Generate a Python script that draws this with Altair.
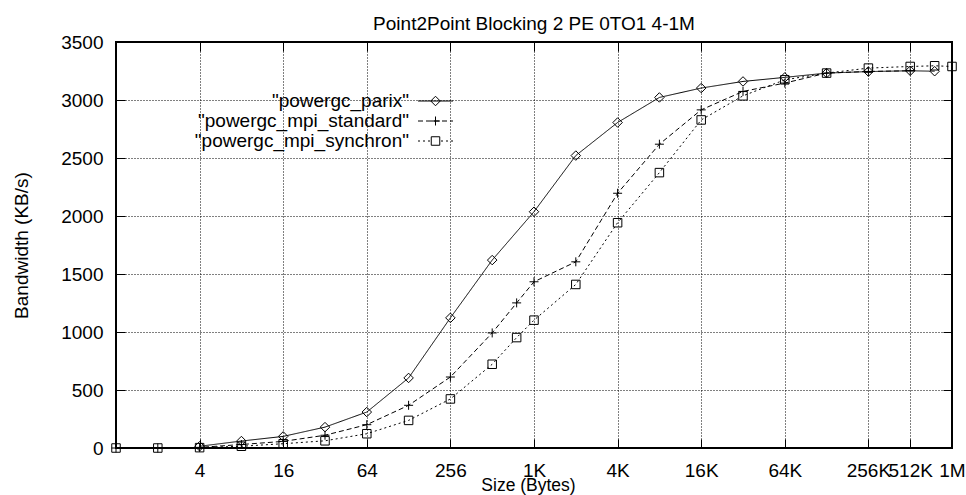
import altair as alt
import pandas as pd

TITLE = "Point2Point Blocking 2 PE 0TO1 4-1M"
SERIES = ['"powergc_parix"', '"powergc_mpi_standard"', '"powergc_mpi_synchron"']

parix_size = [4, 8, 16, 32, 64, 128, 256, 512, 1024, 2048, 4096, 8192, 16384,
              32768, 65536, 131072, 262144, 524288, 786432]
parix_bw = [15, 60, 100, 180, 310, 604, 1122, 1620, 2037, 2521, 2806, 3022, 3103,
            3160, 3195, 3232, 3245, 3252, 3248]

std_size = [1, 2, 4, 8, 16, 32, 64, 128, 256, 512, 768, 1024, 2048, 4096, 8192,
            16384, 32768, 65536, 131072, 262144, 524288]
std_bw = [0, 0, 5, 30, 57, 110, 201, 368, 612, 992, 1251, 1433, 1605, 2196, 2619,
          2915, 3074, 3146, 3232, 3246, 3252]

syn_size = [1, 2, 4, 8, 16, 32, 64, 128, 256, 512, 768, 1024, 2048, 4096, 8192,
            16384, 32768, 65536, 131072, 262144, 524288, 786432, 1048576]
syn_bw = [0, 0, 3, 15, 37, 62, 123, 238, 423, 722, 952, 1102, 1410, 1942, 2374,
          2828, 3036, 3174, 3232, 3275, 3289, 3295, 3289]

x_ticks = [4, 16, 64, 256, 1024, 4096, 16384, 65536, 262144, 524288, 1048576]
y_ticks = [0, 500, 1000, 1500, 2000, 2500, 3000, 3500]

rows = []
for name, xs, ys in [(SERIES[0], parix_size, parix_bw),
                     (SERIES[1], std_size, std_bw),
                     (SERIES[2], syn_size, syn_bw)]:
    for s, b in zip(xs, ys):
        rows.append({"series": name, "size": s, "bw": b})
df = pd.DataFrame(rows)

FONT = "Liberation Sans"
FS = 19

# marker symbols (custom paths, unit = sqrt(size)/2 px)
DIAMOND = "M-0.95,0L0,-0.95L0.95,0L0,0.95Z"
PLUS = "M-0.9,0L0.9,0M0,-0.9L0,0.9"
SQUARE = "M-0.85,-0.85L0.85,-0.85L0.85,0.85L-0.85,0.85Z"
# legend samples: line segment with marker in the middle
L_PARIX = "M-3.5,0L3.5,0" + DIAMOND
L_STD = "M-3.5,0L-2.5,0M-1.9,0L-0.9,0M-0.3,0L0.7,0M1.3,0L2.3,0M2.9,0L3.5,0" + PLUS
L_SYN = "M-3.5,0L-3.1,0M-2.5,0L-2.1,0M-1.5,0L-1.1,0M1.1,0L1.5,0M2.1,0L2.5,0M3.1,0L3.5,0" + SQUARE

xscale = alt.Scale(type="log", base=2, domain=[1, 1048576], nice=False)
yscale = alt.Scale(domain=[0, 3500], nice=False)

label_expr = ("datum.value >= 1048576 ? '1M' : datum.value >= 1024 ? "
              "format(datum.value / 1024, 'd') + 'K' : format(datum.value, 'd')")

x_main = alt.X("size:Q", scale=xscale, axis=alt.Axis(
    values=x_ticks, labelExpr=label_expr, grid=True, tickSize=9, offset=-9,
    labelPadding=13, labelOverlap=False, labelFlush=False,
    title="Size (Bytes)", titlePadding={"expr": "-4"}, titleFontSize=17.5,
    titleX=412, titleAlign="center"))
y_main = alt.Y("bw:Q", scale=yscale, axis=alt.Axis(
    values=y_ticks, format="d", grid=True, tickSize=9, offset=-9, labelPadding=13,
    labelOverlap=False, labelFlush=False,
    title="Bandwidth (KB/s)", titlePadding=29))

lines = alt.Chart(df).mark_line(color="black", strokeWidth=1).encode(
    x=x_main, y=y_main,
    strokeDash=alt.StrokeDash("series:N", scale=alt.Scale(domain=SERIES, range=[[1, 0], [5, 3], [2, 3]]),
                              legend=None),
)

points = alt.Chart(df).mark_point(filled=False, color="black", size=100, strokeWidth=1, opacity=1).encode(
    x=alt.X("size:Q", scale=xscale, axis=None),
    y=alt.Y("bw:Q", scale=yscale, axis=None),
    shape=alt.Shape("series:N", scale=alt.Scale(domain=SERIES, range=[DIAMOND, PLUS, SQUARE]), legend=None),
)

legend_layer = alt.Chart(df).mark_point(filled=False, color="black", size=100, strokeWidth=1, opacity=1).encode(
    x=alt.X("size:Q", scale=xscale, axis=None),
    y=alt.Y("bw:Q", scale=yscale, axis=None),
    shape=alt.Shape("series:N", scale=alt.Scale(domain=SERIES, range=[L_PARIX, L_STD, L_SYN]),
                    legend=alt.Legend(orient="none", legendX=310, legendY=49.5, title=None,
                                      labelAlign="right", labelOffset={"expr": "-36"}, labelFontSize=FS,
                                      labelFont=FONT, labelColor="black", labelLimit=500,
                                      symbolSize=100, symbolStrokeWidth=1, symbolStrokeColor="black",
                                      symbolFillColor="transparent", padding=0, rowPadding=0)),
).transform_filter("false")

mirror = alt.Chart(df).mark_point(opacity=0).encode(
    x=alt.X("size:Q", scale=xscale, axis=alt.Axis(
        orient="top", values=x_ticks, labels=False, grid=False, title=None,
        tickSize=9, offset=-9)),
    y=alt.Y("bw:Q", scale=yscale, axis=alt.Axis(
        orient="right", values=y_ticks, labels=False, grid=False, title=None,
        tickSize=9, offset=-9)),
).transform_filter("false")

chart = alt.layer(lines, points, legend_layer, mirror).resolve_scale(
    shape="independent"
).resolve_axis(
    x="independent", y="independent"
).properties(
    width=836, height=406,
    autosize=alt.AutoSizeParams(type="none"),
    padding={"left": 116, "top": 42, "right": 14, "bottom": 47},
    background="white",
    title=alt.Title(TITLE, fontSize=FS, font=FONT, fontWeight="normal", color="black",
                    anchor="middle", offset={"expr": "-16"}, baseline="alphabetic"),
).configure_view(
    stroke="black", strokeWidth=2
).configure_axis(
    labelFont=FONT, labelFontSize=FS, labelColor="black",
    titleFont=FONT, titleFontSize=FS, titleFontWeight="normal", titleColor="black",
    tickColor="black", tickWidth=1, gridColor="black", gridDash=[1, 2], gridWidth=1,
    gridOpacity=1, domain=False,
)

chart.save("out.html", embed_options={"renderer": "svg", "actions": False})
